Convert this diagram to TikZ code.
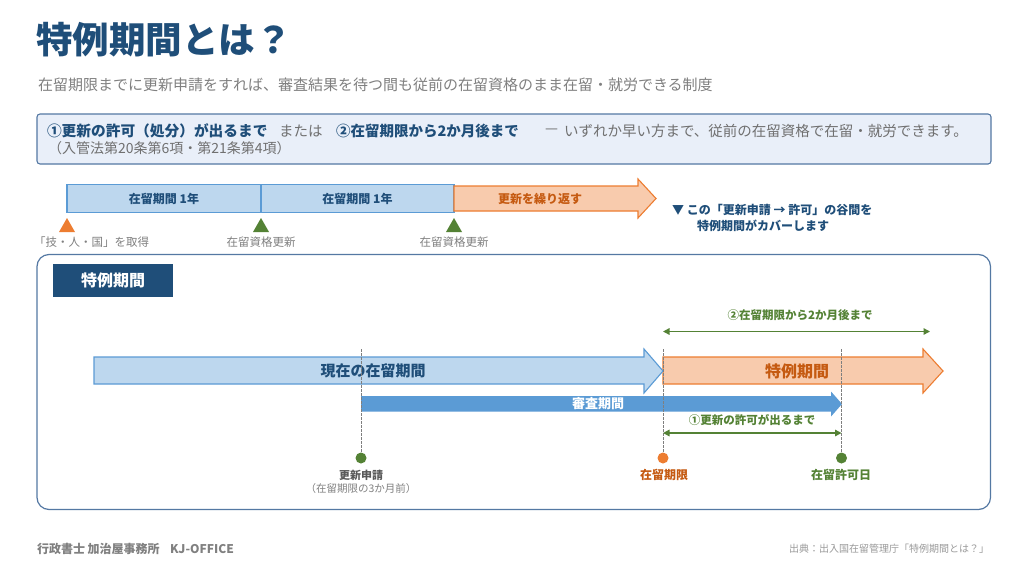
\documentclass[tikz,border=0pt]{standalone}
\usepackage{fontspec}
\setmainfont{Noto Sans CJK JP}
\usetikzlibrary{arrows.meta}
\definecolor{navy}{HTML}{1F4E79}
\definecolor{subgray}{HTML}{808080}
\definecolor{txtgray}{HTML}{707070}
\definecolor{dkgray}{HTML}{595959}
\definecolor{ltgray}{HTML}{9A9A9A}
\definecolor{boxfill}{HTML}{E9EFF9}
\definecolor{boxline}{HTML}{5478A3}
\definecolor{lblue}{HTML}{BDD7EE}
\definecolor{mblue}{HTML}{5B9BD5}
\definecolor{lorange}{HTML}{F8CBAD}
\definecolor{orange}{HTML}{ED7D31}
\definecolor{brown}{HTML}{C55A11}
\definecolor{green}{HTML}{548235}
\definecolor{dashgray}{HTML}{7F7F7F}
\newcommand\fsz[1]{\fontsize{#1}{#1}\selectfont}
\tikzset{
  txt/.style={inner sep=0pt, outer sep=0pt},
  bluebar/.style={fill=lblue, draw=mblue, line width=1.1pt},
  orangebar/.style={fill=lorange, draw=orange, line width=1.1pt},
  guide/.style={draw=dashgray, line width=0.7pt, dash pattern=on 2.5pt off 1.5pt},
  dim/.style={draw=green, line width=1.4pt, {Triangle[length=6.5pt,width=6.5pt]}-{Triangle[length=6.5pt,width=6.5pt]}},
}
\begin{document}
\begin{tikzpicture}[x=1pt,y=-1pt]
\useasboundingbox (0,0) rectangle (1024,573);
\fill[white] (0,0) rectangle (1024,573);

% title and subtitle
\node[txt, anchor=west, text=navy, font=\fsz{36.5}\bfseries] (title) at (36,40) {特例期間とは？};
\node[txt, anchor=west, text=subgray, font=\fsz{15}] (subtitle) at (38,85) {在留期限までに更新申請をすれば、審査結果を待つ間も従前の在留資格のまま在留・就労できる制度};

% summary box
\draw[fill=boxfill, draw=boxline, line width=1.1pt, rounded corners=3pt] (37,114) rectangle (991,164);
\node[txt, anchor=west, text=navy, font=\fsz{14.7}\bfseries] (c1) at (47,131) {①更新の許可（処分）が出るまで};
\node[txt, anchor=west, text=txtgray, font=\fsz{14.5}] (or) at (279,131) {または};
\node[txt, anchor=west, text=navy, font=\fsz{14.5}\bfseries] (c2) at (336,131) {②在留期限から2か月後まで};
\node[txt, anchor=west, text=txtgray, font=\fsz{14.5}] (dash) at (545,131) {—};
\node[txt, anchor=west, text=txtgray, font=\fsz{14.5}] (rest) at (564,131) {いずれか早い方まで、従前の在留資格で在留・就労できます。};
\node[txt, anchor=west, text=txtgray, font=\fsz{14}] (law) at (48,148) {（入管法第20条第6項・第21条第4項）};

% top timeline
\draw[bluebar] (67,184.5) rectangle (261,212.5);
\draw[bluebar] (261,184.5) rectangle (454,212.5);
\node[txt, text=navy, font=\fsz{12}\bfseries] (y1) at (164,198.5) {在留期間 1年};
\node[txt, text=navy, font=\fsz{12}\bfseries] (y2) at (357.5,198.5) {在留期間 1年};
\draw[orangebar] (454,186) -- (638,186) -- (638,179) -- (656,198.5) -- (638,218) -- (638,211) -- (454,211) -- cycle;
\node[txt, text=brown, font=\fsz{12}\bfseries] (rep) at (540,198.5) {更新を繰り返す};

\fill[orange] (59,232) -- (67,218) -- (75,232) -- cycle;
\fill[green] (253,232) -- (261,218) -- (269,232) -- cycle;
\fill[green] (446,232) -- (454,218) -- (462,232) -- cycle;
\node[txt, anchor=west, text=subgray, font=\fsz{11.5}] (get) at (34,242) {「技・人・国」を取得};
\node[txt, text=subgray, font=\fsz{11.5}] (ren1) at (261,242) {在留資格更新};
\node[txt, text=subgray, font=\fsz{11.5}] (ren2) at (454,242) {在留資格更新};

\node[txt, anchor=west, text=navy, font=\fsz{12}\bfseries] (note1) at (672,210) {▼ この「更新申請 → 許可」の谷間を};
\node[txt, anchor=west, text=navy, font=\fsz{12}\bfseries] (note2) at (697,226) {特例期間がカバーします};

% main panel
\draw[fill=white, draw=boxline, line width=1.2pt, rounded corners=12pt] (37,254.5) rectangle (990.5,509.5);
\node[txt, fill=navy, minimum width=120pt, minimum height=33pt, anchor=north west, text=white, font=\fsz{16}\bfseries] (tag) at (53,264) {特例期間};

% arrows
\draw[orangebar] (663,357) -- (923,357) -- (923,349) -- (943,371) -- (923,393) -- (923,384) -- (663,384) -- cycle;
\draw[bluebar] (94,357) -- (644,357) -- (644,349) -- (663,371) -- (644,393) -- (644,384) -- (94,384) -- cycle;
\fill[mblue] (361,396) -- (831,396) -- (831,391.5) -- (842,404) -- (831,416.5) -- (831,411.5) -- (361,411.5) -- cycle;
\node[txt, text=navy, font=\fsz{15}\bfseries] (cur) at (373,371) {現在の在留期間};
\node[txt, text=brown, font=\fsz{16}\bfseries] (sp) at (797,371) {特例期間};
\node[txt, text=white, font=\fsz{13}\bfseries] (rev) at (598,404) {審査期間};

% dots and guides
\coordinate (g1) at (361,349);
\coordinate (g2) at (663,349);
\coordinate (g3) at (841.5,349);
\node[circle, fill=green, minimum size=11pt, inner sep=0pt] (d1) at (361,458) {};
\node[circle, fill=orange, minimum size=11pt, inner sep=0pt] (d2) at (663,458) {};
\node[circle, fill=green, minimum size=11pt, inner sep=0pt] (d3) at (841.5,458) {};
\draw[guide] (g1) -- (d1);
\draw[guide] (g2) -- (d2);
\draw[guide] (g3) -- (d3);

% dimension arrows
\coordinate (a1) at (663,331.5);
\coordinate (a2) at (930,331.5);
\coordinate (b1) at (663,433);
\coordinate (b2) at (841.5,433);
\draw[dim] (a1) -- (a2);
\draw[dim] (b1) -- (b2);
\node[txt, text=green, font=\fsz{11.5}\bfseries] (lab2) at (800,315.5) {②在留期限から2か月後まで};
\node[txt, text=green, font=\fsz{11.5}\bfseries] (lab1) at (752,420.5) {①更新の許可が出るまで};

% point labels
\node[txt, text=dkgray, font=\fsz{11}\bfseries] (app) at (361,475) {更新申請};
\node[txt, text=subgray, font=\fsz{10.5}] (app2) at (361,489) {（在留期限の3か月前）};
\node[txt, text=brown, font=\fsz{12}\bfseries] (exp) at (664,474.5) {在留期限};
\node[txt, text=green, font=\fsz{12}\bfseries] (ok) at (841,474.5) {在留許可日};

% footer
\node[txt, anchor=west, text=subgray, font=\fsz{12}\bfseries] (f1) at (37,549) {行政書士 加治屋事務所};
\node[txt, anchor=west, text=subgray, font=\fsz{12}\bfseries] (f2) at (170,549) {KJ-OFFICE};
\node[txt, anchor=east, text=ltgray, font=\fsz{10}] (src) at (989,548.5) {出典：出入国在留管理庁「特例期間とは？」};
\end{tikzpicture}
\end{document}
